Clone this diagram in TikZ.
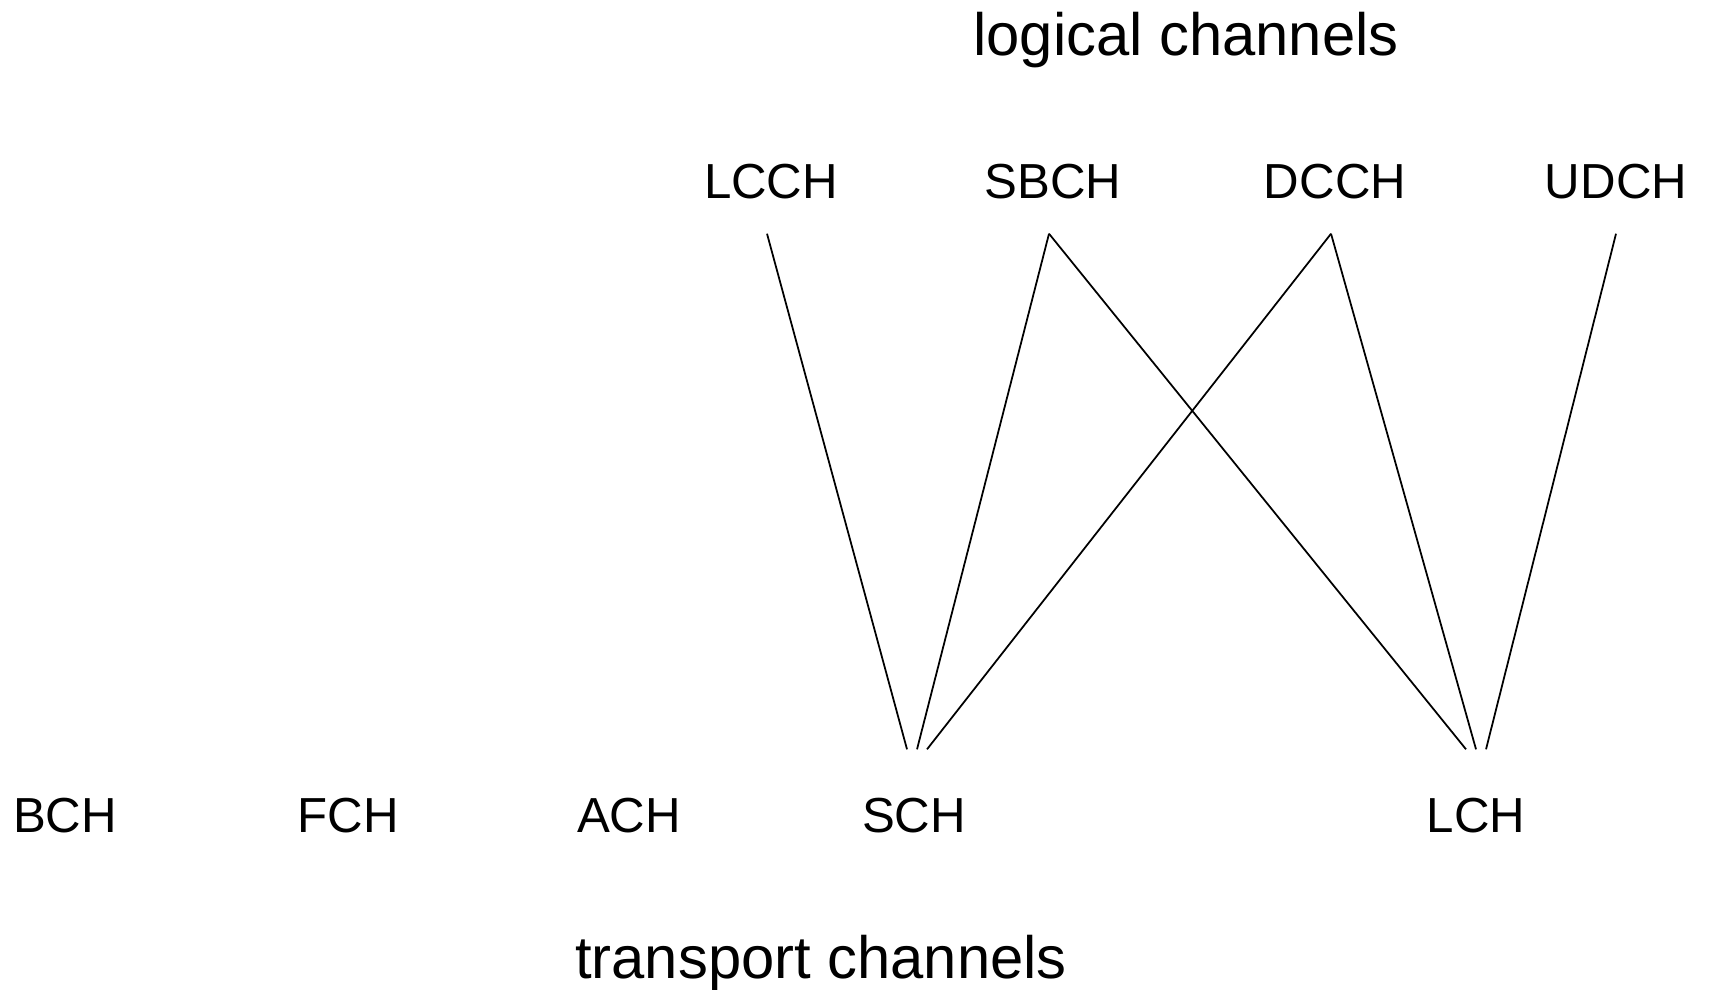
\documentclass[tikz,border=0pt]{standalone}
\usepackage{fontspec}
\setmainfont{Liberation Sans}
\usepackage{tikz}
\usetikzlibrary{calc}

\tikzset{
  chlabel/.style={font=\fontsize{14}{16}\selectfont, inner sep=0pt},
  logch/.style={chlabel, minimum height=10.2mm},
  trch/.style={chlabel, minimum height=13.2mm},
  heading/.style={font=\fontsize{17}{20}\selectfont, inner sep=0pt},
  mapline/.style={line width=0.5pt}
}

\begin{document}
\begin{tikzpicture}

\newcommand{\logy}{8.07}
\newcommand{\trany}{1.73}
\newcommand{\tipoff}{1mm}
\newcommand{\srcoff}{-0.4mm}

\useasboundingbox (0,0) rectangle (17.1,9.89);

\node [heading] (logical) at (11.86, 9.49) {logical channels};
\node [heading] (transport) at (8.21, 0.26) {transport channels};

% logical channels
\foreach \nm/\lbl/\x in {lcch/LCCH/7.71, sbch/SBCH/10.53, dcch/DCCH/13.35, udch/UDCH/16.16}
{
\node [logch] (\nm) at (\x, \logy) {\lbl};
}

% transport channels
\foreach \nm/\lbl/\x in {bch/BCH/0.65, fch/FCH/3.48, ach/ACH/6.29, sch/SCH/9.14, lch/LCH/14.76}
{
\node [trch] (\nm) at (\x, \trany) {\lbl};
}

\coordinate (schtip) at ([xshift=0.3mm]sch.north);

\draw [mapline] ([xshift=\srcoff]lcch.south) -- ([xshift=-\tipoff]schtip);
\draw [mapline] ([xshift=\srcoff]sbch.south) -- (schtip);
\draw [mapline] ([xshift=\srcoff]dcch.south) -- ([xshift=\tipoff]schtip);

\draw [mapline] ([xshift=\srcoff]sbch.south) -- ([xshift=-\tipoff]lch.north);
\draw [mapline] ([xshift=\srcoff]dcch.south) -- (lch.north);
\draw [mapline] (udch.south) -- ([xshift=\tipoff]lch.north);

\end{tikzpicture}
\end{document}
